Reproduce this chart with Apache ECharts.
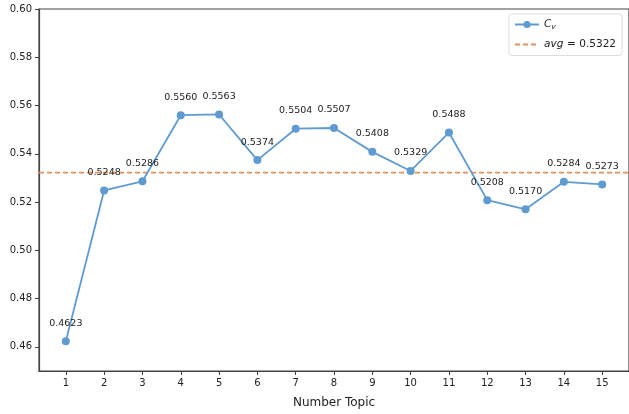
<!DOCTYPE html>
<html><head><meta charset="utf-8">
<script src="https://cdn.jsdelivr.net/npm/echarts@6/dist/echarts.min.js"></script>
<style>html,body{margin:0;padding:0;background:#fff}#c{width:629px;height:414px}</style>
</head><body><div id="c"></div>
<script>
const topics = [1,2,3,4,5,6,7,8,9,10,11,12,13,14,15];
const cvValues = [0.4623,0.5248,0.5286,0.5560,0.5563,0.5374,0.5504,0.5507,0.5408,0.5329,0.5488,0.5208,0.5170,0.5284,0.5273];
const avgValue = 0.5322;
const yTicks = [0.46,0.48,0.50,0.52,0.54,0.56,0.58,0.60];
const xTitle = 'Number Topic';

const chart = echarts.init(document.getElementById('c'), null, {renderer:'canvas'});
const font = 'DejaVu Sans';
chart.setOption({
  animation:false,
  textStyle:{fontFamily:font},
  grid:{left:39,right:-3,top:9,bottom:42,show:true,borderColor:'#444',borderWidth:1.2,containLabel:false},
  legend:{
    right:7, top:14, orient:'vertical', itemWidth:24, itemHeight:9, itemGap:7,
    padding:[5,6,5,5], borderColor:'#ddd', borderWidth:1, borderRadius:3, backgroundColor:'#fff',
    data:[{name:'Cv'},{name:'avg'}],
    formatter:function(n){ return n==='Cv' ? '{i|C}{s|v}' : '{i|avg} {n|= 0.5322}'; },
    textStyle:{rich:{
      i:{fontStyle:'italic',fontSize:10.5,color:'#222',fontFamily:font},
      s:{fontStyle:'italic',fontSize:7.5,color:'#222',verticalAlign:'bottom',padding:[6,0,0,0],fontFamily:font},
      n:{fontSize:10.5,color:'#222',fontFamily:font}
    }}
  },
  xAxis:{
    type:'value', min:0.3, max:15.7,
    name:xTitle, nameLocation:'middle', nameGap:26,
    nameTextStyle:{fontSize:12,color:'#222',fontFamily:font},
    axisLine:{show:true,lineStyle:{color:'#444',width:1.2}},
    axisTick:{show:true,customValues:topics,length:4,lineStyle:{color:'#444'}},
    axisLabel:{customValues:topics,fontSize:10,color:'#222',margin:7,formatter:v=>String(v)},
    splitLine:{show:false}
  },
  yAxis:{
    type:'value', min:0.45, max:0.60,
    axisLine:{show:true,lineStyle:{color:'#444',width:1.2}},
    axisTick:{show:true,customValues:yTicks,length:4,lineStyle:{color:'#444'}},
    axisLabel:{customValues:yTicks,fontSize:10,color:'#222',margin:7,formatter:v=>v.toFixed(2)},
    splitLine:{show:false}
  },
  series:[
    {
      name:'Cv', type:'line',
      data:topics.map((t,i)=>[t,cvValues[i]]),
      symbol:'circle', symbolSize:8,
      itemStyle:{color:'#5f9bd0'},
      lineStyle:{color:'#5f9bd0',width:1.8},
      label:{show:true,position:'top',distance:9,fontSize:9.5,color:'#222',fontFamily:font,
        formatter:p=>p.value[1].toFixed(4)},
      z:3
    },
    {
      name:'avg', type:'line',
      data:[[0.3,avgValue],[15.7,avgValue]],
      symbol:'none',
      itemStyle:{color:'#e8905a',opacity:0},
      lineStyle:{color:'#e8905a',width:1.6,type:[5,3]},
      z:2
    }
  ]
});
</script></body></html>
